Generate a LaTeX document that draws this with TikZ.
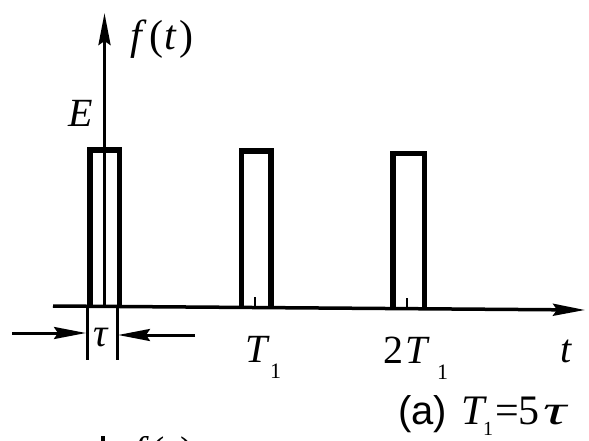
\documentclass[tikz,border=0pt]{standalone}
\usepackage{fontspec}
\setmainfont{Liberation Serif}
\newfontfamily\capsans{Liberation Sans}
\usetikzlibrary{arrows.meta}
\begin{document}
\begin{tikzpicture}[x=1pt,y=-1pt,
  pulse/.style={line width=5.5pt, line join=miter, line cap=butt},
  axisline/.style={line width=3.5pt},
  marker/.style={line width=3pt},
  tick/.style={line width=2.5pt},
  bigtip/.style={-{Stealth[length=32pt,width=12pt,inset=4pt]}},
  lbl/.style={font=\fontsize{40}{44}\selectfont, inner sep=0pt, anchor=base west},
  caplbl/.style={font=\fontsize{42}{46}\selectfont, inner sep=0pt, anchor=base west},
  sublbl/.style={font=\fontsize{22}{24}\selectfont, inner sep=0pt, anchor=base west},
]
\useasboundingbox (0,0) rectangle (589,441);

% axes
\coordinate (O) at (104.5,307);
\coordinate (ytop) at (104.5,13);
\coordinate (xl) at (53,306);
\coordinate (xr) at (585,310);
\draw[axisline,bigtip] (O) -- (ytop);
\draw[axisline,bigtip] (xl) -- (xr);

% pulses
\coordinate (p1a) at (90,307);  \coordinate (p1b) at (119.5,307);
\coordinate (p2a) at (241.5,307); \coordinate (p2b) at (271,307);
\coordinate (p3a) at (393,308); \coordinate (p3b) at (424.5,308);
\draw[pulse] (p1a) -- (90,150) -- (119.5,150) -- (p1b);
\draw[pulse] (p2a) -- (241.5,151) -- (271,151) -- (p2b);
\draw[pulse] (p3a) -- (393,153.5) -- (424.5,153.5) -- (p3b);

% small ticks at T1 and 2T1
\coordinate (t1top) at (255,297); \coordinate (t1bot) at (255,307);
\coordinate (t2top) at (407,298); \coordinate (t2bot) at (407,308);
\draw[tick] (t1top) -- (t1bot);
\draw[tick] (t2top) -- (t2bot);

% tau markers
\coordinate (m1a) at (87,305); \coordinate (m1b) at (87,360);
\coordinate (m2a) at (117,305); \coordinate (m2b) at (117,360);
\draw[marker] (m1a) -- (m1b);
\draw[marker] (m2a) -- (m2b);
\coordinate (al) at (12,333); \coordinate (alt) at (86,333);
\coordinate (ar) at (195,335); \coordinate (art) at (118,335);
\draw[marker,bigtip] (al) -- (alt);
\draw[marker,bigtip] (ar) -- (art);

% labels
\node[lbl,font=\fontsize{42}{46}\selectfont] (ft) at (130,50) {\textit{f}\kern3pt(\kern1pt\textit{t}\kern2pt)};
\node[lbl] (E) at (68,127) {\textit{E}};
\node[lbl,anchor=base] (tau) at (101,346) {\textit{τ}};
\node[lbl] (T1) at (245,362) {\textit{T}};
\node[sublbl] (T1s) at (270,378) {1};
\node[lbl] (T2) at (383,363) {2\kern2pt\textit{T}};
\node[sublbl] (T2s) at (437,379) {1};
\node[lbl] (tt) at (560,362) {\textit{t}};

% caption
\node[font=\fontsize{40}{44}\capsans, inner sep=0pt, anchor=base west] (capa) at (398,424) {(a)};
\node[caplbl] (capT) at (461,424) {\textit{T}};
\node[sublbl,font=\fontsize{20}{22}\selectfont] (capTs) at (483,435) {1};
\node[caplbl] (capeq) at (495,424) {=5};
\node[caplbl] (captau) at (543,424) {\scalebox{1.55}[1]{\textit{τ}}};

% cut-off top of the next figure
\begin{scope}
\clip (0,436) rectangle (589,441);
\coordinate (nb) at (103,436); \coordinate (nbe) at (103,460);
\draw[axisline] (nb) -- (nbe);
\node[lbl] (ft2) at (133,464) {\textit{f}\kern3pt(\kern1pt\textit{t}\kern2pt)};
\end{scope}
\end{tikzpicture}
\end{document}
